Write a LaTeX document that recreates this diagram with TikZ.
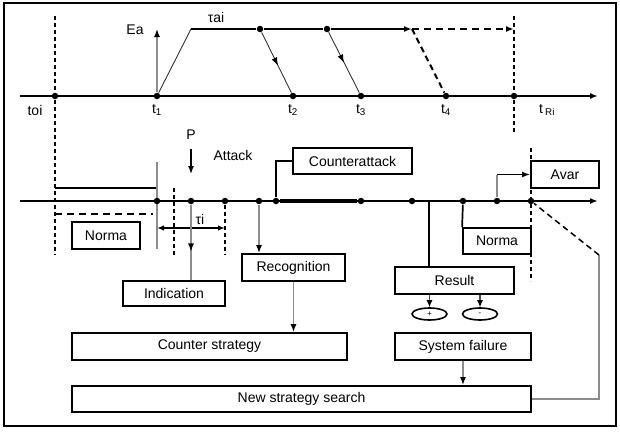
\documentclass[tikz,border=0pt]{standalone}
\usepackage{fontspec}
\setmainfont{Liberation Sans}
\usetikzlibrary{positioning}
\usetikzlibrary{arrows.meta}
\usetikzlibrary{shapes.geometric}
\usetikzlibrary{decorations.markings}
\tikzset{every picture/.style={line width=1pt}}
\tikzset{box/.style={draw, line width=1.8pt, inner sep=0pt, minimum height=27pt}}
\tikzset{dot/.style={circle, fill, inner sep=0pt, minimum size=6.5pt}}
\tikzset{grey/.style={black!45, line width=1.4pt}}
\tikzset{axis/.style={line width=1.9pt, ->}}
\tikzset{thindash/.style={line width=1.2pt, dash pattern=on 4pt off 3pt}}
\tikzset{thickdash/.style={line width=1.7pt, dash pattern=on 7pt off 5pt}}
\tikzset{midarrow/.style={postaction=decorate, decoration={markings, mark=at position #1 with {\arrow{Latex[length=8pt,width=6pt,color=black]}}}}}

\begin{document}
\begin{tikzpicture}[x=1pt, y=-1pt, >={Latex[length=8pt,width=6pt,color=black]}, font=\fontsize{14}{16}\selectfont]
    \useasboundingbox (0,0) rectangle (620,431);
    \draw[line width=1.6pt] (4,3) rectangle (616,426);

    % upper time axis
    \coordinate (a0) at (20,96);
    \coordinate (a1) at (598,96);
    \draw[axis] (a0) -- (a1);
    \node (toi) [dot] at (55,96) {};
    \node (t1) [dot] at (157,96) {};
    \node (t2) [dot] at (293,96) {};
    \node (t3) [dot] at (361,96) {};
    \node (t4) [dot] at (446,96) {};
    \node (tR) [dot] at (514,96) {};

    \node (ltoi) at (35,110) {toi};
    \node (lt1) [below of=t1, node distance=14pt] {t\textsubscript{1}};
    \node (lt2) [below of=t2, node distance=14pt] {t\textsubscript{2}};
    \node (lt3) [below of=t3, node distance=14pt] {t\textsubscript{3}};
    \node (lt4) [below of=t4, node distance=14pt] {t\textsubscript{4}};
    \node (ltR) [right of=tR, node distance=33pt, yshift=-14pt] {t\,\textsubscript{Ri}};

    % attack energy track
    \coordinate (ea) at (157,29);
    \coordinate (a) at (191,29);
    \node (b) [dot] at (260,29) {};
    \node (c) [dot] at (327,29) {};
    \coordinate (d) at (412,29);
    \coordinate (e) at (514,29);
    \node (Ea) at (135,30) {Ea};
    \node (tauai) at (216,17) {τai};

    \draw[grey, ->] (t1) -- (ea);
    \draw[black!80, line width=0.9pt] (t1) -- (a);
    \draw[line width=2pt] (a) -- (b);
    \draw[line width=2pt] (b) -- (c);
    \draw[line width=2pt, ->] (c) -- (d);
    \draw[thickdash, ->] (d) -- (e);
    \draw[black!80, line width=0.9pt, midarrow=0.55] (b) -- (t2);
    \draw[black!80, line width=0.9pt, midarrow=0.5] (c) -- (t3);
    \draw[line width=2pt, dash pattern=on 6pt off 4pt] (d) -- (t4);

    % dashed borders
    \coordinate (v1) at (55,16);
    \coordinate (v2) at (55,255);
    \coordinate (v3) at (514,16);
    \coordinate (v4) at (514,133);
    \coordinate (v5) at (531,148);
    \coordinate (v6) at (531,281);
    \draw[thindash] (v1) -- (v2);
    \draw[thindash] (v3) -- (v4);
    \draw[thindash] (v5) -- (v6);

    % norma before the attack
    \coordinate (n1) at (55,188);
    \coordinate (n2) at (157,188);
    \coordinate (n3) at (55,214);
    \coordinate (n4) at (153,214);
    \coordinate (g1) at (157,162);
    \coordinate (g2) at (157,249);
    \draw[line width=1.7pt] (n1) -- (n2);
    \draw[thickdash, line width=1.5pt] (n3) -- (n4);
    \draw[grey] (g1) -- (g2);

    % lower time axis
    \coordinate (b0) at (20,201);
    \coordinate (b1) at (598,201);
    \draw[axis] (b0) -- (b1);
    \node (p1) [dot] at (157,201) {};
    \node (p2) [dot] at (191,201) {};
    \node (p3) [dot] at (225,201) {};
    \node (p4) [dot] at (259,201) {};
    \node (p5) [dot] at (276,201) {};
    \node (p6) [dot] at (361,201) {};
    \node (p7) [dot] at (412,201) {};
    \node (p8) [dot] at (463,201) {};
    \node (p9) [dot] at (497,201) {};
    \node (p10) [dot] at (531,201) {};
    \draw[line width=3.8pt] (p5) -- (p6);

    \coordinate (w1) at (174,188);
    \coordinate (w2) at (174,255);
    \coordinate (w3) at (225,255);
    \draw[thindash] (w1) -- (w2);
    \draw[thindash] (p3) -- (w3);

    \coordinate (ti1) at (157,228);
    \coordinate (ti2) at (225,228);
    \draw[<->, line width=1.5pt, >={Latex[length=7pt,width=5.5pt]}] (ti1) -- (ti2);
    \node (taui) at (200,219) {τi};

    \node (P) at (191,135) {P};
    \coordinate (pa) at (191,174);
    \draw[->, line width=1.4pt] (P) ++(0,14) -- (pa);
    \node (attack) at (233,155) {Attack};

    % boxes
    \node (norma1) [box, minimum width=68pt] at (106,235.5) {Norma};
    \node (ind) [box, minimum width=102pt, minimum height=25pt] at (174,293.5) {Indication};
    \node (rec) [box, minimum width=103pt] at (293.5,267.5) {Recognition};
    \node (counter) [box, minimum width=119pt, minimum height=26pt] at (352.5,161) {Counterattack};
    \node (avar) [box, minimum width=68pt] at (565,174.5) {Avar};
    \node (norma2) [box, minimum width=68pt, minimum height=26pt] at (497,241) {Norma};
    \node (result) [box, minimum width=119pt] at (454.5,280.5) {Result};
    \node (plus) [ellipse, draw, line width=1.6pt, minimum width=35pt, minimum height=12pt, inner sep=0pt, font=\footnotesize] at (429.5,314) {+};
    \node (minus) [ellipse, draw, line width=1.6pt, minimum width=35pt, minimum height=12pt, inner sep=0pt, font=\footnotesize] at (480,314) {-};
    \node (sysf) [box, minimum width=136pt] at (463,346.5) {System failure};
    \node (cstrat) [box, minimum width=275pt] at (209.5,346.5) {Counter strategy};
    \node (nss) [box, minimum width=459pt, minimum height=26pt] at (301.5,399) {New strategy search};

    % connectors
    \draw[grey, midarrow=0.62] (p2) -- (p2 |- ind.north);
    \draw[grey, ->] (p4) -- (p4 |- rec.north);
    \draw[line width=1.7pt] (p5) |- (counter.west);
    \draw[grey] (p9) -- (p9 |- avar.west);
    \draw[line width=1.7pt, ->] (p9 |- avar.west) -- (avar.west);
    \draw[line width=1.7pt] (p8) -- (norma2.north west);
    \coordinate (r0) at (429,201);
    \draw[line width=1.7pt] (r0) -- (r0 |- result.north);
    \draw[black!70, line width=1.1pt, ->, >={Latex[length=7pt,width=6pt,color=black]}] (plus |- result.south) -- (plus.north);
    \draw[black!70, line width=1.1pt, ->, >={Latex[length=7pt,width=6pt,color=black]}] (minus |- result.south) -- (minus.north);
    \draw[grey, ->] (rec.south) -- (rec.south |- cstrat.north);
    \draw[grey, ->] (sysf.south) -- (sysf.south |- nss.north);
    \coordinate (fb1) at (599,399);
    \coordinate (fb2) at (599,255);
    \draw[grey] (nss.east) -- (fb1) -- (fb2);
    \draw[line width=1.5pt, dash pattern=on 6pt off 4pt] (fb2) -- (p10);
\end{tikzpicture}
\end{document}
